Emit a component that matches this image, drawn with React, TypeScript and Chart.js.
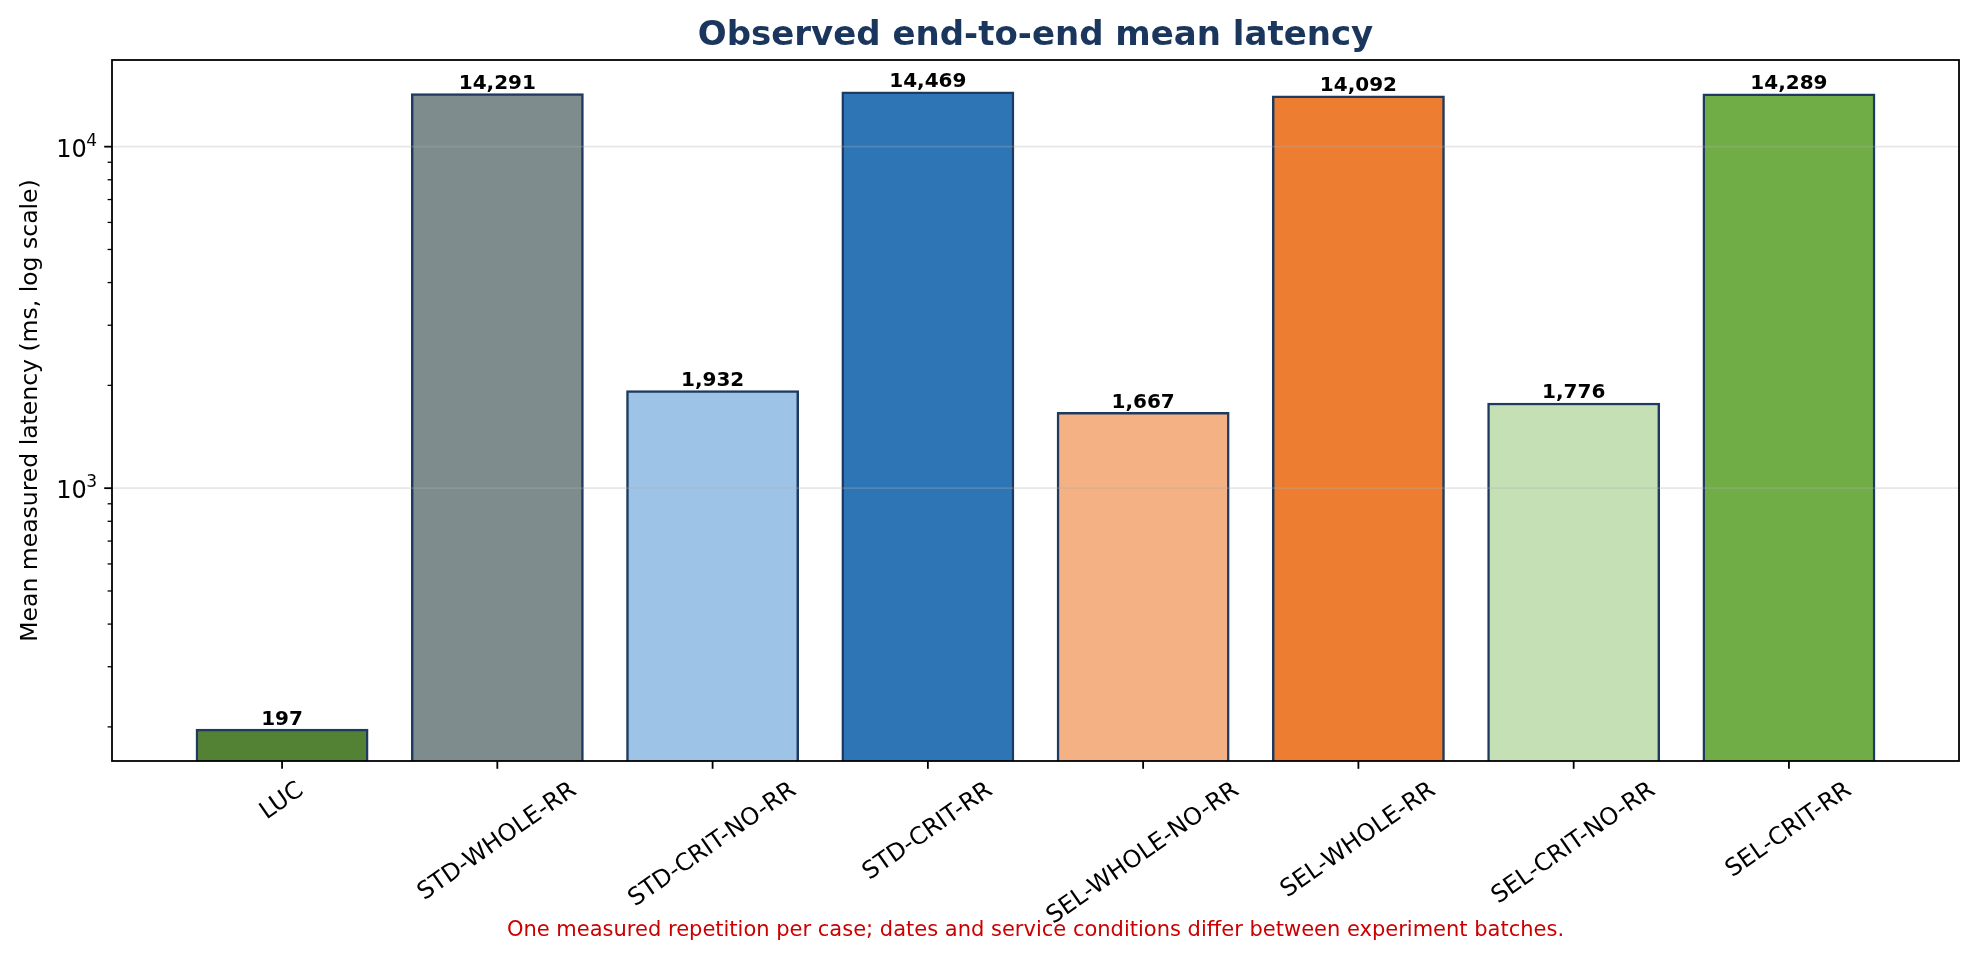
import React, { useEffect, useRef } from "react";
import { Chart, registerables } from "chart.js";

Chart.register(...registerables);

// Measured cases and their mean end-to-end latency (ms)
const categories = [
  "LUC",
  "STD-WHOLE-RR",
  "STD-CRIT-NO-RR",
  "STD-CRIT-RR",
  "SEL-WHOLE-NO-RR",
  "SEL-WHOLE-RR",
  "SEL-CRIT-NO-RR",
  "SEL-CRIT-RR",
];
const latencyMs = [197, 14291, 1932, 14469, 1667, 14092, 1776, 14289];
const barColors = [
  "#548235",
  "#7f8c8d",
  "#9dc3e6",
  "#2e75b6",
  "#f4b183",
  "#ed7d31",
  "#c5e0b4",
  "#70ad47",
];

// Log-axis ticks
const majorTicks = [1000, 10000];
const majorTickExponents = ["3", "4"];
const minorTicks = [200, 300, 400, 500, 600, 700, 800, 900, 2000, 3000, 4000, 5000, 6000, 7000, 8000, 9000];

const TITLE = "Observed end-to-end mean latency";
const Y_TITLE = "Mean measured latency (ms, log scale)";
const FOOTNOTE =
  "One measured repetition per case; dates and service conditions differ between experiment batches.";

const WIDTH = 1978;
const HEIGHT = 959;
const NAVY = "#1b365d";
const EDGE = "#1f3a60";
const FONT = "'DejaVu Sans', 'Liberation Sans', sans-serif";

// Axis limits with 5% margins (log space for y)
const logLo = Math.log10(Math.min(...latencyMs));
const logHi = Math.log10(Math.max(...latencyMs));
const logPad = 0.05 * (logHi - logLo);
const Y_MIN = Math.pow(10, logLo - logPad);
const Y_MAX = Math.pow(10, logHi + logPad);
const xLo = -0.4;
const xHi = categories.length - 1 + 0.4;
const X_MIN = xLo - 0.05 * (xHi - xLo);
const X_MAX = xHi + 0.05 * (xHi - xLo);

const TICK_FONT_PX = 24;

const decorPlugin = {
  id: "decor",
  beforeDraw(chart: any) {
    const { ctx } = chart;
    ctx.save();
    ctx.fillStyle = "#ffffff";
    ctx.fillRect(0, 0, chart.width, chart.height);
    ctx.restore();
  },
  afterDatasetsDraw(chart: any) {
    const { ctx, chartArea: a, scales } = chart;
    const x = scales.x;
    const y = scales.y;
    ctx.save();

    // horizontal grid over the bars
    ctx.strokeStyle = "rgba(176,176,176,0.3)";
    ctx.lineWidth = 1.8;
    majorTicks.forEach((v) => {
      const py = y.getPixelForValue(v);
      ctx.beginPath();
      ctx.moveTo(a.left, py);
      ctx.lineTo(a.right, py);
      ctx.stroke();
    });

    // frame
    ctx.strokeStyle = "#000";
    ctx.lineWidth = 1.8;
    ctx.strokeRect(a.left, a.top, a.right - a.left, a.bottom - a.top);

    // y ticks
    majorTicks.forEach((v) => {
      const py = y.getPixelForValue(v);
      ctx.lineWidth = 1.8;
      ctx.beginPath();
      ctx.moveTo(a.left, py);
      ctx.lineTo(a.left - 7.8, py);
      ctx.stroke();
    });
    minorTicks.forEach((v) => {
      if (v < Y_MIN || v > Y_MAX) return;
      const py = y.getPixelForValue(v);
      ctx.lineWidth = 1.3;
      ctx.beginPath();
      ctx.moveTo(a.left, py);
      ctx.lineTo(a.left - 4.4, py);
      ctx.stroke();
    });

    // y tick labels (10^n)
    ctx.fillStyle = "#000";
    majorTicks.forEach((v, i) => {
      const py = y.getPixelForValue(v);
      const right = a.left - 15;
      ctx.font = `17px ${FONT}`;
      ctx.textAlign = "right";
      ctx.textBaseline = "alphabetic";
      const sup = majorTickExponents[i];
      const sw = ctx.measureText(sup).width;
      ctx.fillText(sup, right, py - 1);
      ctx.font = `${TICK_FONT_PX}px ${FONT}`;
      ctx.fillText("10", right - sw + 0.5, py + 10);
    });

    // x ticks and rotated labels
    const rot = (35 * Math.PI) / 180;
    ctx.font = `${TICK_FONT_PX}px ${FONT}`;
    categories.forEach((c, i) => {
      const px = x.getPixelForValue(i);
      ctx.strokeStyle = "#000";
      ctx.lineWidth = 1.8;
      ctx.beginPath();
      ctx.moveTo(px, a.bottom);
      ctx.lineTo(px, a.bottom + 7.8);
      ctx.stroke();

      const w = ctx.measureText(c).width;
      const h = TICK_FONT_PX * 1.164;
      const bboxH = w * Math.sin(rot) + h * Math.cos(rot);
      const top = a.bottom + 7.8 + 7.8;
      ctx.save();
      ctx.translate(px, top + bboxH / 2);
      ctx.rotate(-rot);
      ctx.textAlign = "center";
      ctx.textBaseline = "middle";
      ctx.fillStyle = "#000";
      ctx.fillText(c, 0, 0);
      ctx.restore();
    });

    // value labels above bars
    ctx.font = `bold 20px ${FONT}`;
    ctx.textAlign = "center";
    ctx.textBaseline = "alphabetic";
    ctx.fillStyle = "#000";
    latencyMs.forEach((v, i) => {
      const px = x.getPixelForValue(i);
      const py = y.getPixelForValue(v);
      ctx.fillText(v.toLocaleString("en-US"), px, py - 4.5);
    });

    // title
    const cx = (a.left + a.right) / 2;
    ctx.font = `bold 34px ${FONT}`;
    ctx.fillStyle = NAVY;
    ctx.textAlign = "center";
    ctx.fillText(TITLE, cx, 45);

    // y axis title
    ctx.save();
    ctx.translate(37, (a.top + a.bottom) / 2);
    ctx.rotate(-Math.PI / 2);
    ctx.font = `23.5px ${FONT}`;
    ctx.fillStyle = "#000";
    ctx.textAlign = "center";
    ctx.fillText(Y_TITLE, 0, 0);
    ctx.restore();

    // footnote
    ctx.font = `21px ${FONT}`;
    ctx.fillStyle = "#cc0000";
    ctx.textAlign = "center";
    ctx.fillText(FOOTNOTE, cx, 936);

    ctx.restore();
  },
};

export default function App() {
  const canvasRef = useRef<HTMLCanvasElement | null>(null);

  useEffect(() => {
    document.body.style.margin = "0";
    document.body.style.overflow = "hidden";
    const canvas = canvasRef.current;
    if (!canvas) return;
    const chart = new Chart(canvas, {
      type: "bar",
      data: {
        datasets: [
          {
            data: latencyMs.map((v, i) => ({ x: i, y: v })),
            backgroundColor: barColors,
            borderColor: EDGE,
            borderWidth: 2.5,
            barThickness: "flex",
            categoryPercentage: 1,
            barPercentage: 0.8,
          },
        ],
      },
      options: {
        responsive: false,
        animation: false,
        devicePixelRatio: 1,
        layout: { padding: { left: 112, right: 19, top: 60, bottom: 198 } },
        plugins: {
          legend: { display: false },
          title: { display: false },
          tooltip: { enabled: false },
        },
        scales: {
          x: {
            type: "linear",
            min: X_MIN,
            max: X_MAX,
            offset: false,
            bounds: "data",
            display: false,
            ticks: { stepSize: 1, includeBounds: false },
          },
          y: {
            type: "logarithmic",
            min: Y_MIN,
            max: Y_MAX,
            display: false,
          },
        },
      },
      plugins: [decorPlugin],
    });
    return () => chart.destroy();
  }, []);

  return (
    <div style={{ position: "absolute", left: 0, top: 0, width: WIDTH, height: HEIGHT }}>
      <canvas ref={canvasRef} width={WIDTH} height={HEIGHT} style={{ display: "block" }} />
    </div>
  );
}
